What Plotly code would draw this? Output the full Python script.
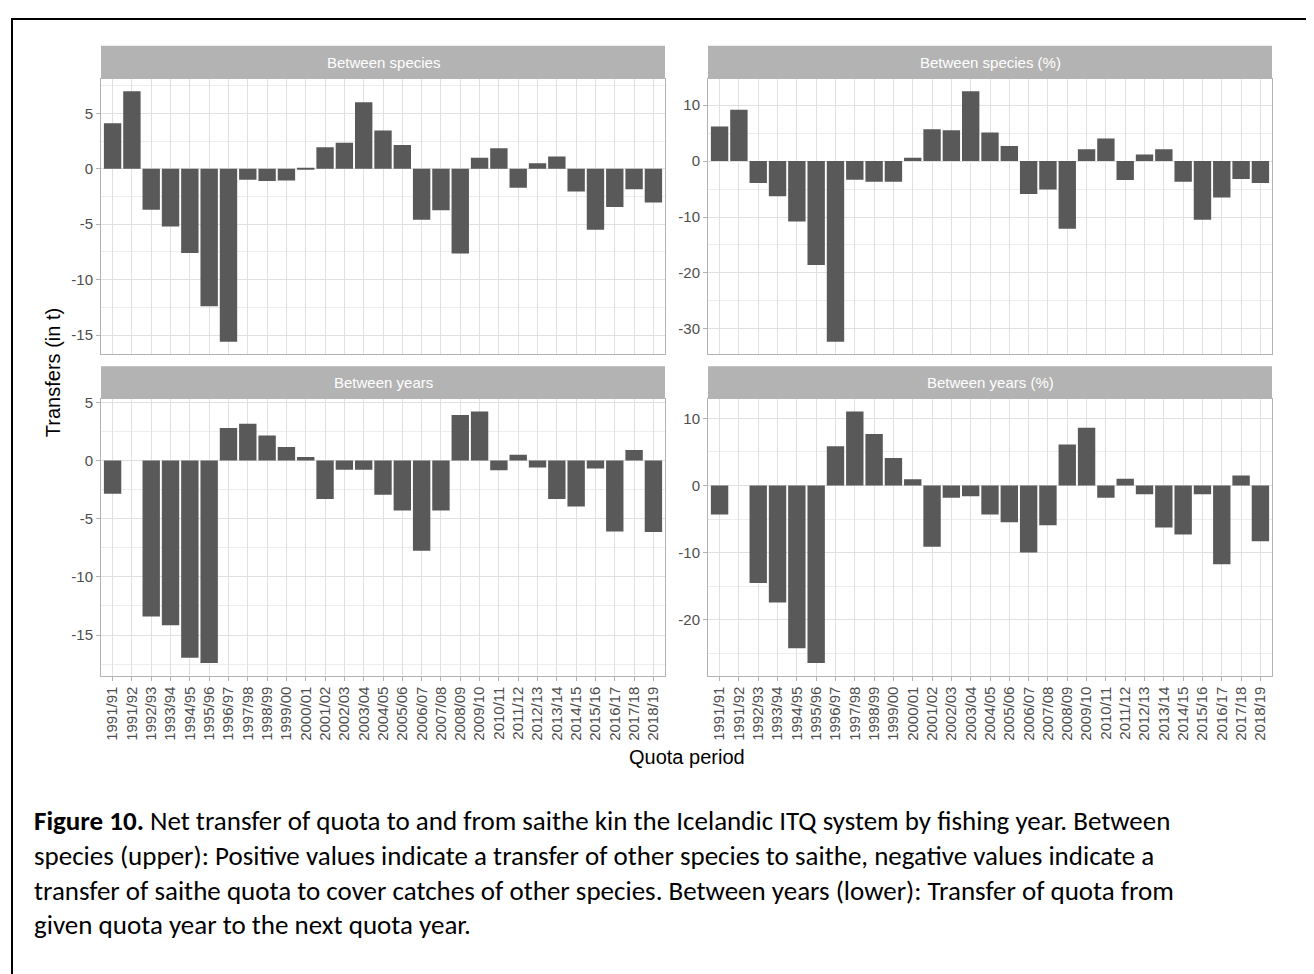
import math
import plotly.graph_objects as go

# ---------------- data ----------------
quota_periods = ["1991/91", "1991/92", "1992/93", "1993/94", "1994/95", "1995/96",
                 "1996/97", "1997/98", "1998/99", "1999/00", "2000/01", "2001/02",
                 "2002/03", "2003/04", "2004/05", "2005/06", "2006/07", "2007/08",
                 "2008/09", "2009/10", "2010/11", "2011/12", "2012/13", "2013/14",
                 "2014/15", "2015/16", "2016/17", "2017/18", "2018/19"]

between_species = [4.1, 7.0, -3.7, -5.2, -7.6, -12.4, -15.6, -1.0, -1.1, -1.05,
                   0.1, 1.95, 2.35, 6.0, 3.45, 2.15, -4.6, -3.75, -7.65, 1.0,
                   1.85, -1.7, 0.5, 1.1, -2.05, -5.5, -3.45, -1.85, -3.05]

between_species_pct = [6.2, 9.2, -3.9, -6.3, -10.8, -18.6, -32.3, -3.35, -3.7, -3.7,
                       0.6, 5.7, 5.5, 12.5, 5.1, 2.7, -5.9, -5.1, -12.1, 2.1,
                       4.05, -3.4, 1.2, 2.1, -3.7, -10.5, -6.5, -3.2, -3.9]

between_years = [-2.85, 0.0, -13.4, -14.15, -16.95, -17.4, 2.8, 3.15, 2.15, 1.15,
                 0.3, -3.3, -0.8, -0.8, -2.95, -4.3, -7.75, -4.3, 3.9, 4.2,
                 -0.85, 0.5, -0.6, -3.3, -3.95, -0.7, -6.1, 0.9, -6.15]

between_years_pct = [-4.3, 0.0, -14.5, -17.4, -24.2, -26.4, 5.85, 11.0, 7.65, 4.1,
                     0.95, -9.1, -1.8, -1.6, -4.3, -5.45, -9.95, -5.9, 6.1, 8.6,
                     -1.8, 1.0, -1.3, -6.25, -7.3, -1.3, -11.7, 1.5, -8.3]

panel_titles = ["Between species", "Between species (%)", "Between years", "Between years (%)"]
panel_series = [between_species, between_species_pct, between_years, between_years_pct]
panel_dticks = [5, 10, 5, 10]

caption_lines = [
    "<b>Figure 10.</b> Net transfer of quota to and from saithe kin the Icelandic ITQ system by fishing year. Between",
    "species (upper): Positive values indicate a transfer of other species to saithe, negative values indicate a",
    "transfer of saithe quota to cover catches of other species. Between years (lower): Transfer of quota from",
    "given quota year to the next quota year.",
]

# ---------------- layout geometry (pixels) ----------------
W, H = 1314, 974
def px_x(v):
    return v / W
def px_y(v):
    return 1 - v / H

col_px = [(93, 657), (700, 1264)]
row_px = [(66, 343), (388, 666)]   # panel top, bottom
strip_h = 33

GRID = "#E0E0E0"
MINOR = "#EDEDED"
BORDER = "#B3B3B3"
BAR = "#595959"
TXT = "#4D4D4D"
FONT = "Liberation Sans, Arial, sans-serif"

fig = go.Figure()
layout = dict(
    width=W, height=H,
    margin=dict(l=0, r=0, t=0, b=0),
    paper_bgcolor="white", plot_bgcolor="white",
    showlegend=False, bargap=0.1,
    font=dict(family=FONT, color=TXT),
)

shapes = []
annotations = []

for i, (title, vals, dt) in enumerate(zip(panel_titles, panel_series, panel_dticks)):
    r, c = divmod(i, 2)
    ax = "" if i == 0 else str(i + 1)
    fig.add_trace(go.Bar(x=quota_periods, y=vals, marker=dict(color=BAR, line=dict(width=0)),
                         xaxis="x" + ax, yaxis="y" + ax, width=0.9))
    lo = min(min(vals), 0)
    hi = max(max(vals), 0)
    span = hi - lo
    yr = [lo - 0.05 * span, hi + 0.05 * span]
    tv = list(range(int(math.ceil(yr[0] / dt)) * dt, int(math.floor(yr[1] / dt)) * dt + 1, dt))
    tt = [str(v) for v in tv]   # ASCII hyphen-minus like ggplot
    x0, x1 = col_px[c]
    t, b = row_px[r]
    bottom_row = (r == 1)
    layout["xaxis" + ax] = dict(
        domain=[px_x(x0), px_x(x1)], anchor="y" + ax,
        type="category", range=[-0.6, len(quota_periods) - 0.4],
        showgrid=True, gridcolor=GRID, gridwidth=1,
        showline=True, mirror=True, linecolor=BORDER, linewidth=1,
        ticks="outside" if bottom_row else "", ticklen=4, tickcolor=BORDER,
        showticklabels=bottom_row, tickangle=-90,
        tickfont=dict(size=15, color=TXT, family=FONT),
        zeroline=False, fixedrange=True,
    )
    layout["yaxis" + ax] = dict(
        domain=[px_y(b), px_y(t)], anchor="x" + ax,
        range=yr, tickmode="array", tickvals=tv, ticktext=tt,
        showgrid=True, gridcolor=GRID, gridwidth=1,
        minor=dict(tick0=0, dtick=dt / 2, showgrid=True, gridcolor=MINOR, gridwidth=1, ticks=""),
        showline=True, mirror=True, linecolor=BORDER, linewidth=1,
        ticks="outside", ticklen=4, tickcolor=BORDER,
        tickfont=dict(size=15, color=TXT, family=FONT),
        zeroline=False, fixedrange=True,
    )
    # facet strip
    shapes.append(dict(type="rect", xref="paper", yref="paper",
                       x0=px_x(x0), x1=px_x(x1), y0=px_y(t), y1=px_y(t - strip_h),
                       fillcolor="#B3B3B3", line=dict(width=0), layer="above"))
    annotations.append(dict(text=title, xref="paper", yref="paper",
                            x=px_x((x0 + x1) / 2), y=px_y(t - strip_h / 2),
                            xanchor="center", yanchor="middle", showarrow=False,
                            font=dict(size=15, color="white", family=FONT)))

# axis titles
annotations.append(dict(text="Quota period", xref="paper", yref="paper",
                        x=px_x((93 + 1264) / 2), y=px_y(748), xanchor="center", yanchor="middle",
                        showarrow=False, font=dict(size=20, color="black", family=FONT)))
annotations.append(dict(text="Transfers (in t)", xref="paper", yref="paper",
                        x=px_x(45), y=px_y(362), xanchor="center", yanchor="middle",
                        textangle=-90, showarrow=False,
                        font=dict(size=20, color="black", family=FONT)))

# caption
cap_y = [812, 847, 882, 916]
for line, yy in zip(caption_lines, cap_y):
    annotations.append(dict(text=line, xref="paper", yref="paper",
                            x=px_x(24), y=px_y(yy), xanchor="left", yanchor="middle",
                            showarrow=False,
                            font=dict(size=27, color="black", family="Carlito, Lato, sans-serif")))

# outer frame
shapes.append(dict(type="rect", xref="paper", yref="paper",
                   x0=px_x(4), x1=px_x(1311), y0=px_y(968), y1=px_y(6),
                   line=dict(color="black", width=2), fillcolor="rgba(0,0,0,0)"))

layout["shapes"] = shapes
layout["annotations"] = annotations
fig.update_layout(**layout)

fig.write_html("out.html")
